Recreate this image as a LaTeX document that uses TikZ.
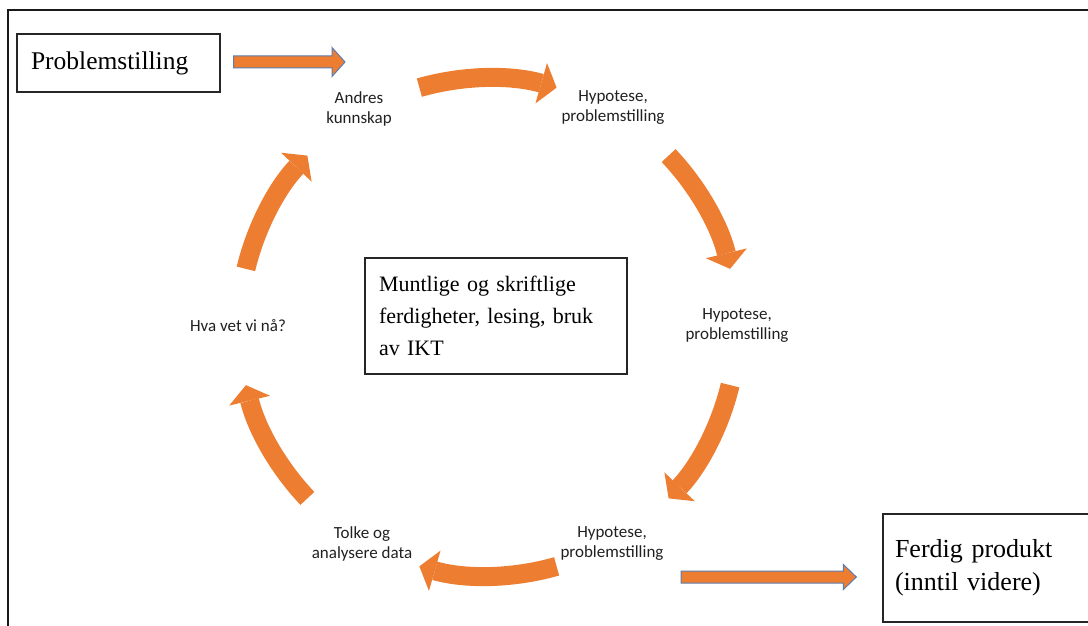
\documentclass[tikz,border=0pt]{standalone}
\usepackage{fontspec}
\setmainfont{Liberation Serif}
\newfontfamily\labelfont{Carlito}
\usetikzlibrary{arrows.meta,calc}
\definecolor{cycorange}{HTML}{ED7D31}
\definecolor{arrowedge}{HTML}{5B7DB1}
\definecolor{labelgray}{HTML}{202020}

% straight block arrow: #1 tail coordinate, #2 tip coordinate, #3 half height of the head
\newcommand\blockarrowpath[3]{%
  \filldraw[blockarrow] ($(#1)+(0,6)$) -- ($(#2)+(-13,6)$) -- ($(#2)+(-13,#3)$) -- (#2)
    -- ($(#2)+(-13,-#3)$) -- ($(#2)+(-13,-6)$) -- ($(#1)+(0,-6)$) -- cycle;}

\begin{document}
\begin{tikzpicture}[x=1pt,y=1pt,
  box/.style={draw=black!85, line width=1.3pt, inner sep=0pt, align=left},
  steplabel/.style={font=\labelfont\fontsize{17}{20}\selectfont, text=labelgray,
    align=center, inner sep=0pt},
  cyc/.style={draw=cycorange, line width=19pt,
    -{Triangle[width=42pt,length=16pt,line width=0pt]}},
  blockarrow/.style={fill=cycorange, draw=arrowedge, line width=1pt, line join=miter}
]
\clip (0,0) rectangle (1088,-626);

% outer frame (top and left edges)
\draw[line width=2pt, black!90] (8,-630) -- (8,-10) -- (1092,-10);

% boxes
\node[box, minimum width=203pt, minimum height=58pt, text width=175pt,
      font=\fontsize{25.5}{28}\selectfont] (prob) at (118.5,-63) {Problemstilling};
\node[box, minimum width=262pt, minimum height=116pt, text width=234pt,
      font=\fontsize{22}{32}\selectfont] (skills) at (496,-316)
      {Muntlige og skriftlige\\ferdigheter, lesing, bruk\\av IKT};
\node[box, minimum width=220pt, minimum height=108pt, text width=196pt,
      font=\fontsize{26}{33}\selectfont] (final) at (993,-568)
      {Ferdig produkt\\(inntil videre)};

% stage labels around the cycle
\node[steplabel] (andres) at (359,-109) {Andres\\kunnskap};
\node[steplabel] (hypA) at (613,-108) {Hypotese,\\problemstilling};
\node[steplabel] (hypB) at (737,-326) {Hypotese,\\problemstilling};
\node[steplabel] (hypC) at (612,-544) {Hypotese,\\problemstilling};
\node[steplabel] (tolke) at (362,-544) {Tolke og\\analysere data};
\node[steplabel] (hva) at (238,-326) {Hva vet vi nå?};

% curved arrows of the cycle
\coordinate (hub) at (488,-327);
\draw[cyc] ($(hub)+(106:249)$) arc[start angle=106, end angle=74, radius=249];
\draw[cyc] ($(hub)+(43.5:249)$) arc[start angle=43.5, end angle=13.5, radius=249];
\draw[cyc] ($(hub)+(-13.5:249)$) arc[start angle=-13.5, end angle=-43.5, radius=249];
\draw[cyc] ($(hub)+(-74:249)$) arc[start angle=-74, end angle=-106, radius=249];
\draw[cyc] ($(hub)+(-136.5:249)$) arc[start angle=-136.5, end angle=-166.5, radius=249];
\draw[cyc] ($(hub)+(166.5:249)$) arc[start angle=166.5, end angle=136.5, radius=249];

% entry and exit arrows
\coordinate (inTail) at ($(prob.east)+(13,1)$);
\coordinate (inTip) at (345,-62);
\blockarrowpath{inTail}{inTip}{14.5}
\coordinate (outTail) at (681,-577);
\coordinate (outTip) at ($(final.west)+(-26,-9)$);
\blockarrowpath{outTail}{outTip}{12.5}
\end{tikzpicture}
\end{document}
